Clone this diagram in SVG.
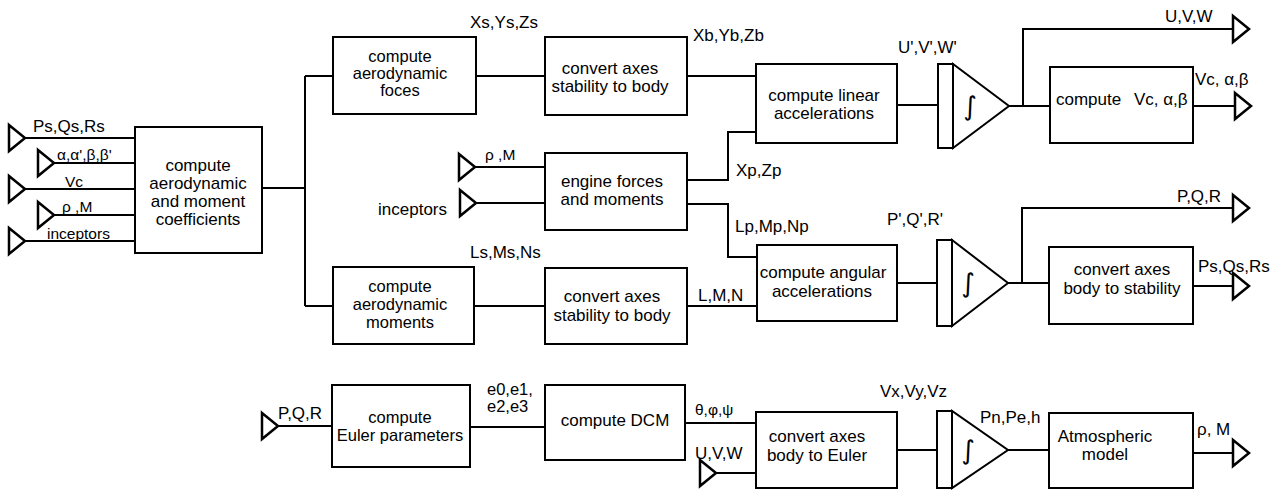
<svg xmlns="http://www.w3.org/2000/svg" xmlns:xlink="http://www.w3.org/1999/xlink" width="1281" height="490" viewBox="0 0 1281 490">
<style>
.box{fill:#fff;stroke:#000;stroke-width:2}
.ln{fill:none;stroke:#000;stroke-width:2}
.term{fill:#fff;stroke:#000;stroke-width:2.5;stroke-linejoin:miter}
text{font-family:"Liberation Sans",Arial,sans-serif;font-size:17px;fill:#000}
.sm{font-size:15.5px}
.t3{font-size:16.5px}
.c{text-anchor:middle}
.e{text-anchor:end}
.int{font-family:"DejaVu Sans","Liberation Sans",sans-serif;font-size:26px;text-anchor:middle}
</style>
<defs>
<path id="tri" d="M0,-13 L16,0 L0,13 Z"/>
</defs>
<rect width="1281" height="490" fill="#fff"/>

<g id="connectors">
<path class="ln" d="M25,138 H135 M54,163 H135 M25,189 H135 M54,215 H135 M25,241 H135"/>
<path class="ln" d="M262,188 H305 M305,76 V306 M305,76 H333 M305,306 H333"/>
<path class="ln" d="M476,76 H545 M687,76 H756"/>
<path class="ln" d="M474,306 H545 M687,306 H757"/>
<path class="ln" d="M475,167 H545 M476,203 H545"/>
<path class="ln" d="M687,180 H728 V132 H756"/>
<path class="ln" d="M687,204 H728 V257 H757"/>
<path class="ln" d="M897,105 H938"/>
<path class="ln" d="M1009,106 H1050 M1023,106 V29 H1233"/>
<path class="ln" d="M1193,106 H1235"/>
<path class="ln" d="M897,283 H937 M1008,283 H1049 M1022,283 V208 H1233 M1193,286 H1233"/>
<path class="ln" d="M278,426 H332 M470,427 H545 M685,423 H756 M716,473 H756 M897,450 H937 M1008,450 H1049 M1193,453 H1233"/>

<text x="33" y="132">Ps,Qs,Rs</text>
<text class="sm" x="57" y="160">α,α',β,β'</text>
<text class="sm" x="65" y="187">Vc</text>
<text class="sm" x="62" y="212">ρ ,M</text>
<text class="sm" x="47" y="239">inceptors</text>
<text x="470" y="28">Xs,Ys,Zs</text>
<text x="693" y="41">Xb,Yb,Zb</text>
<text class="sm" x="485" y="160">ρ ,M</text>
<text class="e" x="447" y="215">inceptors</text>
<text x="736" y="176">Xp,Zp</text>
<text x="735" y="232">Lp,Mp,Np</text>
<text x="470" y="258">Ls,Ms,Ns</text>
<text x="698" y="301">L,M,N</text>
<text x="898" y="53">U',V',W'</text>
<text x="1165" y="22">U,V,W</text>
<text x="1195" y="85">Vc, α,β</text>
<text x="887" y="225">P',Q',R'</text>
<text x="1177" y="202">P,Q,R</text>
<text x="1198" y="272">Ps,Qs,Rs</text>
<text x="278" y="419">P,Q,R</text>
<text class="t3" x="487" y="395">e0,e1,</text>
<text class="t3" x="487" y="412">e2,e3</text>
<text class="sm" x="695" y="415">θ,φ,ψ</text>
<text x="695" y="459">U,V,W</text>
<text x="880" y="397">Vx,Vy,Vz</text>
<text x="980" y="423">Pn,Pe,h</text>
<text x="1197" y="435">ρ, M</text>
</g>

<g id="terminators">
<use xlink:href="#tri" class="term" x="9" y="138"/>
<use xlink:href="#tri" class="term" x="38" y="163"/>
<use xlink:href="#tri" class="term" x="9" y="189"/>
<use xlink:href="#tri" class="term" x="38" y="215"/>
<use xlink:href="#tri" class="term" x="9" y="241"/>
<use xlink:href="#tri" class="term" x="459" y="167"/>
<use xlink:href="#tri" class="term" x="460" y="203"/>
<use xlink:href="#tri" class="term" x="1233" y="29"/>
<use xlink:href="#tri" class="term" x="1235" y="106"/>
<use xlink:href="#tri" class="term" x="1233" y="208"/>
<use xlink:href="#tri" class="term" x="1233" y="286"/>
<use xlink:href="#tri" class="term" x="1233" y="453"/>
<use xlink:href="#tri" class="term" x="262" y="426"/>
<use xlink:href="#tri" class="term" x="700" y="473"/>
</g>

<g id="coef">
<rect class="box" x="135" y="127" width="127" height="126"/>
<text class="c" x="198" y="171">compute</text>
<text class="c" x="198" y="189">aerodynamic</text>
<text class="c" x="198" y="207">and moment</text>
<text class="c" x="198" y="225">coefficients</text>
</g>

<g id="aeroForces">
<rect class="box" x="333" y="37" width="143" height="77"/>
<text class="c t3" x="400" y="62">compute</text>
<text class="c t3" x="400" y="79">aerodynamic</text>
<text class="c t3" x="400" y="96">foces</text>
</g>

<g id="convForces">
<rect class="box" x="545" y="37" width="142" height="78"/>
<text class="c" x="610" y="74">convert axes</text>
<text class="c" x="610" y="92">stability to body</text>
</g>

<g id="engine">
<rect class="box" x="545" y="153" width="142" height="77"/>
<text class="c" x="612" y="187">engine forces</text>
<text class="c" x="612" y="205">and moments</text>
</g>

<g id="aeroMoments">
<rect class="box" x="333" y="267" width="141" height="77"/>
<text class="c t3" x="400" y="292">compute</text>
<text class="c t3" x="400" y="310">aerodynamic</text>
<text class="c t3" x="400" y="328">moments</text>
</g>

<g id="convMoments">
<rect class="box" x="545" y="268" width="142" height="76"/>
<text class="c" x="612" y="302">convert axes</text>
<text class="c" x="612" y="321">stability to body</text>
</g>

<g id="linAcc">
<rect class="box" x="756" y="64" width="141" height="79"/>
<text class="c" x="824" y="101">compute linear</text>
<text class="c" x="824" y="119">accelerations</text>
</g>

<g id="integ1">
<rect class="box" x="938" y="64" width="15" height="84"/>
<polygon class="box" points="953,64 953,148 1009,106"/>
<text class="int" x="970" y="115">∫</text>
</g>

<g id="computeVc">
<rect class="box" x="1050" y="67" width="143" height="76"/>
<text x="1056" y="105">compute<tspan x="1134">Vc, α,β</tspan></text>
</g>

<g id="angAcc">
<rect class="box" x="757" y="245" width="140" height="76"/>
<text class="c" x="823" y="278">compute angular</text>
<text class="c" x="822" y="297">accelerations</text>
</g>

<g id="integ2">
<rect class="box" x="937" y="240" width="15" height="86"/>
<polygon class="box" points="952,240 952,326 1008,283"/>
<text class="int" x="968" y="292">∫</text>
</g>

<g id="convBS">
<rect class="box" x="1049" y="247" width="144" height="77"/>
<text class="c" x="1122" y="275">convert axes</text>
<text class="c" x="1122" y="294">body to stability</text>
</g>

<g id="euler">
<rect class="box" x="332" y="385" width="138" height="82"/>
<text class="c t3" x="400" y="423">compute</text>
<text class="c t3" x="400" y="441">Euler parameters</text>
</g>

<g id="dcm">
<rect class="box" x="545" y="385" width="140" height="75"/>
<text class="c" x="615" y="426">compute DCM</text>
</g>

<g id="convBE">
<rect class="box" x="756" y="412" width="141" height="76"/>
<text class="c" x="817" y="442">convert axes</text>
<text class="c" x="817" y="461">body to Euler</text>
</g>

<g id="integ3">
<rect class="box" x="937" y="411" width="15" height="77"/>
<polygon class="box" points="952,411 952,488 1008,450"/>
<text class="int" x="968" y="459">∫</text>
</g>

<g id="atmos">
<rect class="box" x="1049" y="413" width="144" height="75"/>
<text class="c" x="1105" y="442">Atmospheric</text>
<text class="c" x="1105" y="460">model</text>
</g>
</svg>
